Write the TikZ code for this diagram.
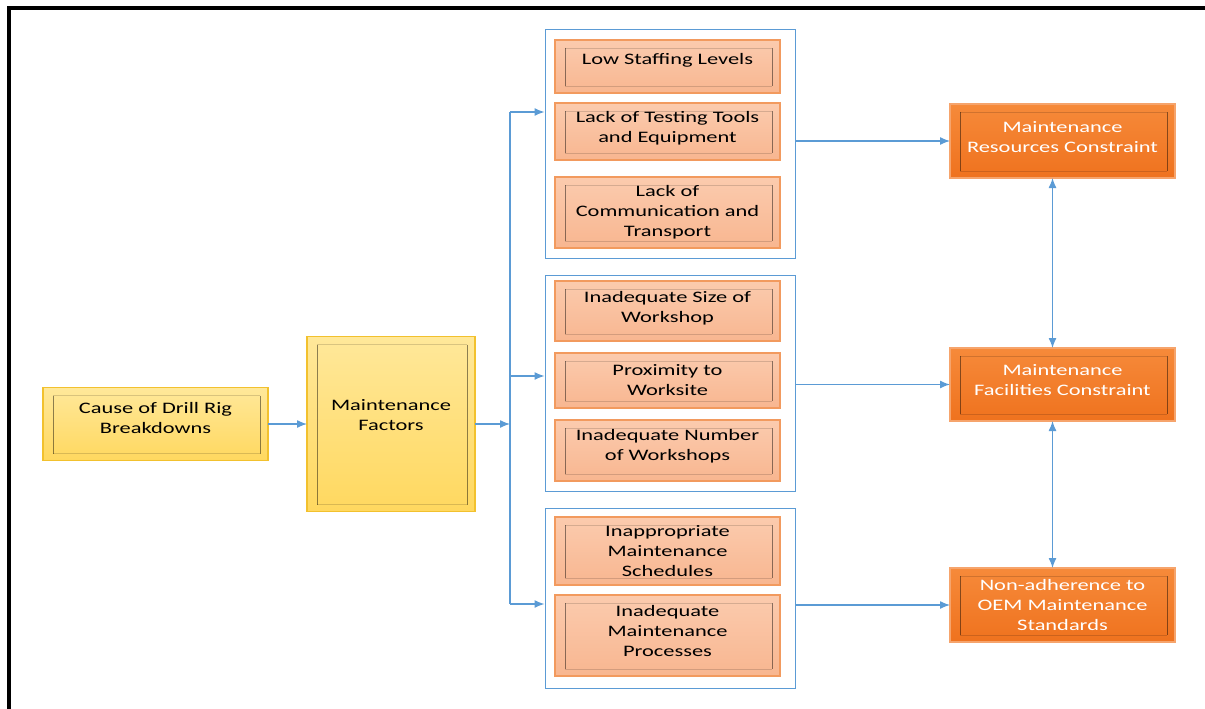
\documentclass[tikz,border=0pt]{standalone}
\usepackage{fontspec}
\setmainfont{Carlito}[FakeStretch=1.4]
\usepackage{tikz}
\usetikzlibrary{positioning,fit,arrows.meta}
\definecolor{lineblue}{HTML}{5B9BD5}
\definecolor{ylwtop}{HTML}{FFE89A}
\definecolor{ylwbot}{HTML}{FFD85F}
\definecolor{ylwline}{HTML}{F2C12E}
\definecolor{peachtop}{HTML}{FBCBAE}
\definecolor{peachbot}{HTML}{F8B690}
\definecolor{peachline}{HTML}{F29A5E}
\definecolor{rusttop}{HTML}{F68A3A}
\definecolor{rustbot}{HTML}{EF721E}
\definecolor{rustline}{HTML}{F6A46C}
\tikzset{
 inframe/.style
  = {path picture={
     \draw [black, draw opacity=0.15, line width=0.8pt]
       ([shift={(10pt,-8pt)}]path picture bounding box.north west) --
       ([shift={(-8pt,-8pt)}]path picture bounding box.north east)
       ([shift={(10pt,7pt)}]path picture bounding box.south west) --
       ([shift={(-8pt,7pt)}]path picture bounding box.south east);
     \draw [black, draw opacity=0.45, line width=0.9pt]
       ([shift={(10pt,-8pt)}]path picture bounding box.north west) --
       ([shift={(10pt,7pt)}]path picture bounding box.south west)
       ([shift={(-8pt,-8pt)}]path picture bounding box.north east) --
       ([shift={(-8pt,7pt)}]path picture bounding box.south east);}},
 lift/.style
  = {execute at end node={\rule[-#1]{0pt}{#1}}},
 lift/.default=12pt,
 sink/.style
  = {execute at begin node={\rule{0pt}{#1}}},
 a/.style
  = {rectangle, draw=ylwline, top color=ylwtop, bottom color=ylwbot, line width=1.5pt,
     align=center, inner sep=0pt, outer sep=0pt, inframe,
     font=\fontsize{16}{20}\selectfont},
 b/.style
  = {rectangle, draw=peachline, top color=peachtop, bottom color=peachbot, line width=1.2pt,
     minimum width=225pt, align=center, inner sep=0pt, outer sep=0pt, inframe,
     font=\fontsize{16}{20}\selectfont},
 d/.style
  = {rectangle, draw=rustline, top color=rusttop, bottom color=rustbot, line width=1.2pt,
     minimum width=225pt, align=center, inner sep=0pt, outer sep=0pt, inframe,
     text=white, font=\fontsize{16}{20}\selectfont},
 g/.style
  = {rectangle, draw=lineblue, line width=1pt, inner sep=0pt},
 l/.style
  = {draw=lineblue, -{Latex[length=10pt,width=8pt]}, line width=1.3pt},
 lr/.style
  = {draw=lineblue, {Latex[length=10pt,width=8pt]}-{Latex[length=10pt,width=8pt]}, line width=1.3pt}
}
\begin{document}
\begin{tikzpicture}[auto, x=1pt, y=-1pt]
    \useasboundingbox (0,0) rectangle (1205,709);
    \draw [line width=4pt] (9,720) -- (9,8) -- (1215,8);

    \node [a, lift, minimum width=225pt, minimum height=73pt] (cause) at (155.5,424) {Cause of Drill Rig\\ Breakdowns};
    \node [a, lift=18pt, right = 39pt of cause, minimum width=168pt, minimum height=175pt] (factors) {Maintenance\\ Factors};

    \node [b, lift=16pt, minimum height=53pt] (staff) at (667.5,66.5) {Low Staffing Levels};
    \node [b, lift=9pt, below = 10pt of staff, minimum height=57pt] (tools) {Lack of Testing Tools\\ and Equipment};
    \node [b, below = 17pt of tools, minimum height=71pt] (comm) {Lack of\\ Communication and\\ Transport};
    \node [b, lift=8pt, below = 33pt of comm, minimum height=60pt] (size) {Inadequate Size of\\ Workshop};
    \node [b, below = 12pt of size, minimum height=55pt] (site) {Proximity to\\ Worksite};
    \node [b, lift, below = 12pt of site, minimum height=61pt] (number) {Inadequate Number\\ of Workshops};
    \node [b, sink=20pt, below = 36pt of number, minimum height=68pt] (sched) {Inappropriate\\ Maintenance\\ Schedules};
    \node [b, lift=9pt, below = 10pt of sched, minimum height=81pt] (proc) {Inadequate\\ Maintenance\\ Processes};

    \node [g, fit=(staff)(comm), inner xsep=12.5pt, inner ysep=10pt, xshift=2.5pt] (resgroup) {};
    \node [g, fit=(size)(number), inner xsep=12.5pt, inner ysep=8pt, xshift=2.5pt, yshift=-2.5pt] (facgroup) {};
    \node [g, fit=(sched)(proc), inner xsep=12.5pt, inner ysep=10.5pt, xshift=2.5pt, yshift=-1.5pt] (stdgroup) {};

    \node [d, lift=8pt, minimum height=74pt] (resources) at (1062.5,141) {Maintenance\\ Resources Constraint};
    \node [d, lift=10pt, below = 170pt of resources, minimum height=73pt] (facilities) {Maintenance\\ Facilities Constraint};
    \node [d, below = 147pt of facilities, minimum height=74pt] (standards) {Non-adherence to\\ OEM Maintenance\\ Standards};

    \coordinate (top) at (510,112);
    \coordinate (mid) at (510,376);
    \coordinate (bot) at (510,604);

    \path [l] (cause) -- (factors);
    \path [l] (factors) -- (factors -| top);
    \draw [lineblue, line width=1.3pt] (top) -- (bot);
    \path [l] (top) -- (top -| resgroup.west);
    \path [l] (mid) -- (mid -| facgroup.west);
    \path [l] (bot) -- (bot -| stdgroup.west);

    \path [l] (resgroup.east |- resources) -- (resources);
    \path [l] (facgroup.east |- facilities) -- (facilities);
    \path [l] (stdgroup.east |- standards) -- (standards);
    \path [lr] ([xshift=-10pt]resources.south) -- ([xshift=-10pt]facilities.north);
    \path [lr] ([xshift=-10pt]facilities.south) -- ([xshift=-10pt]standards.north);

\end{tikzpicture}
\end{document}
